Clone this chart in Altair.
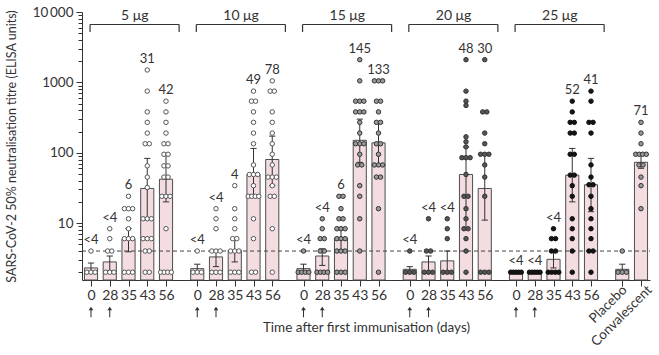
import altair as alt
import pandas as pd

FONT = "Lato"
INK = "#333333"

doses = ["5 μg", "10 μg", "15 μg", "20 μg", "25 μg"]
days = ["0", "28", "35", "43", "56"]
controls = ["Placebo", "Convalescent"]

# order: 5 doses x 5 days, then placebo, convalescent
gmt = [2.3, 2.8, 5.9, 31, 42,
       2.25, 3.3, 4.1, 49, 80,
       2.25, 3.4, 6.1, 150, 138,
       2.2, 2.8, 2.9, 49, 31,
       2.0, 2.0, 3.05, 48, 35,
       2.2, 73]
ci_low = [2.0, 2.1, 3.9, 12, 20,
          2.0, 2.4, 2.8, 24, 34,
          2.0, 2.5, 4.2, 73, 67,
          2.0, 2.0, 2.0, 8.6, 11,
          2.0, 2.0, 2.3, 20, 14.5,
          2.0, 60]
ci_high = [2.7, 3.4, 8.4, 83, 95,
           2.6, 4.1, 6.1, 115, 172,
           2.6, 4.3, 8.6, 300, 270,
           2.4, 3.4, 4.0, 121, 95,
           2.0, 2.0, 4.0, 115, 83,
           2.6, 95]
top_labels = ["<4", "<4", "6", "31", "42",
              "<4", "<4", "4", "49", "78",
              "<4", "<4", "6", "145", "133",
              "<4", "<4", "<4", "48", "30",
              "<4", "<4", "<4", "52", "41",
              "", "71"]
individual = [
    # 5 μg
    [2, 2, 2, 4],
    [2, 2, 2, 4, 4, 6, 8.3],
    [2, 2, 2, 6, 6, 6, 8.3, 11.5, 16, 16, 16, 24],
    [2, 2, 4, 4, 6, 6, 6, 11.5, 11.5, 11.5, 32, 45, 65, 134, 134, 190, 270, 380, 750, 1500],
    [2, 2, 2, 2, 8.3, 24, 24, 24, 45, 45, 65, 65, 95, 95, 134, 134, 190, 270, 380, 540],
    # 10 μg
    [2, 2, 2, 4],
    [2, 2, 2, 4, 4, 4, 8.3, 11.5, 16],
    [2, 2, 2, 4, 4, 4, 6, 6, 8.3, 11.5, 16, 34],
    [2, 2, 6, 11.5, 24, 24, 24, 24, 34, 49, 49, 49, 67, 134, 190, 270, 380, 540, 540, 750],
    [2, 8.3, 24, 24, 34, 45, 45, 45, 67, 95, 134, 190, 270, 380, 750, 750, 1050],
    # 15 μg
    [2, 2, 2, 2, 4],
    [2, 2, 2, 2, 4, 4, 6, 6, 8.3, 11.5],
    [2, 2, 2, 4, 4, 4, 6, 6, 6, 8.3, 8.3, 8.3, 11.5, 11.5, 16, 24, 24],
    [4, 11.5, 24, 34, 67, 67, 95, 134, 134, 134, 190, 270, 380, 380, 380, 540, 540, 540, 1050, 2100],
    [2, 16, 45, 45, 67, 67, 67, 95, 134, 134, 190, 270, 270, 380, 540, 540, 1050, 1050, 1050],
    # 20 μg
    [2, 2, 2, 4],
    [2, 2, 2, 4, 4, 11.5],
    [2, 2, 2, 6, 8.3, 11.5],
    [2, 4, 6, 8.3, 8.3, 11.5, 16, 24, 24, 49, 85, 85, 85, 121, 143, 168, 470, 540, 750, 2100],
    [2, 2, 2, 24, 45, 67, 95, 95, 95, 134, 190, 380, 380, 2100],
    # 25 μg
    [2, 2, 2, 2, 2],
    [2, 2, 2, 2, 2],
    [2, 2, 2, 2, 4, 4, 6, 6, 8.3],
    [2, 4, 6, 8.3, 11.5, 24, 34, 48, 48, 95, 95, 190, 190, 270, 270, 380, 540],
    [2, 4, 4, 6, 8.3, 11.5, 16, 24, 35, 35, 45, 67, 190, 270, 270, 540, 750],
    # placebo, convalescent
    [2, 2, 2, 4],
    [16, 34, 45, 67, 67, 95, 95, 95, 95, 134, 190, 270],
]
detection_limit = 4
major_ticks = [10, 100, 1000, 10000]
minor_ticks = [m * 10 ** e for e in range(0, 4) for m in range(2, 10)]

# ---- layout helpers (axis units: 3 per slot, 17 per dose group) ----
STEP, GROUP = 3, 17


def slot_pos(k):
    if k < 25:
        return GROUP * (k // 5) + STEP * (k % 5)
    return GROUP * 5 + STEP * (k - 25)


def slot_class(k):
    return doses[k // 5] if k < 25 else "control"


rows = []
for k in range(len(gmt)):
    p = slot_pos(k)
    rows.append(dict(pos=p, lo=p - 1.05, hi=p + 1.05, cap_lo=p - 0.5, cap_hi=p + 0.5,
                     gmt=gmt[k], ci_low=ci_low[k], ci_high=ci_high[k],
                     label=top_labels[k], top=max(individual[k])))
bars = pd.DataFrame(rows)

dot_rows = []
for k, vals in enumerate(individual):
    p = slot_pos(k)
    counts = {}
    for v in vals:
        counts[v] = counts.get(v, 0) + 1
    for v, n in counts.items():
        sp = 0.66 if n <= 3 else min(0.66, 1.7 / (n - 1))
        for j in range(n):
            dot_rows.append(dict(x=p + (j - (n - 1) / 2) * sp, v=v, cls=slot_class(k)))
dots = pd.DataFrame(dot_rows)

brackets = pd.DataFrame([dict(left=GROUP * g - 0.15, right=GROUP * g + 4 * STEP + 2.1,
                              center=GROUP * g + 2 * STEP + 1.0, dose=d)
                         for g, d in enumerate(doses)])
bracket_ends = pd.DataFrame([dict(xe=x) for _, r in brackets.iterrows() for x in (r.left, r.right)])
arrows = pd.DataFrame([dict(pos=GROUP * g + STEP * i) for g in range(5) for i in range(2)])
ctrl = pd.DataFrame([dict(pos=GROUP * 5 + STEP * i + 0.4 + 1.0 * i, name=c) for i, c in enumerate(controls)])
dl = pd.DataFrame({"v": [detection_limit]})

all_pos = [slot_pos(k) for k in range(len(gmt))]
x_label_expr = "datum.value >= %d ? '' : " % (GROUP * 5)
for i, d in enumerate(days):
    x_label_expr += "(datum.value %% %d == %d) ? '%s' : " % (GROUP, STEP * i, d)
x_label_expr += "''"

W, H = 568, 268
xscale = alt.Scale(domain=[-1.44, 89.44], nice=False, zero=False)
yscale = alt.Scale(type="log", domain=[1.55, 10000], nice=False)

x_axis = alt.Axis(values=all_pos, labelExpr=x_label_expr, tickSize=6, labelFontSize=14,
                  labelPadding=2, labelOverlap=False, grid=False, orient="bottom",
                  title="Time after first immunisation (days)", titleFontSize=13.5,
                  titleFontWeight="normal", titlePadding=18)
y_axis = alt.Axis(values=major_ticks,
                  labelExpr="datum.value >= 10000 ? '10\u2009000' : format(datum.value, 'd')",
                  tickSize=6, labelFontSize=13.5, labelPadding=3, grid=False, orient="left",
                  title="SARS-CoV-2 50% neutralisation titre (ELISA units)", titleFontSize=12.5,
                  titleFontWeight="normal", titleX=-64)
y_minor = alt.Axis(values=minor_ticks, labels=False, tickSize=4, domain=False, grid=False,
                   title=None, orient="left")

bar_layer = alt.Chart(bars).mark_bar(fill="#f3dde0", stroke="#4d4d4d", strokeWidth=1).encode(
    x=alt.X("lo:Q", scale=xscale, axis=x_axis), x2="hi:Q",
    y=alt.Y("gmt:Q", scale=yscale, axis=y_axis), y2=alt.value(H))

err = alt.Chart(bars).mark_rule(color=INK, strokeWidth=1).encode(
    x=alt.X("pos:Q", scale=xscale, axis=None),
    y=alt.Y("ci_low:Q", scale=yscale, axis=y_minor), y2="ci_high:Q")
cap_hi = alt.Chart(bars).mark_rule(color=INK, strokeWidth=1).encode(
    x=alt.X("cap_lo:Q", scale=xscale, axis=None), x2="cap_hi:Q",
    y=alt.Y("ci_high:Q", scale=yscale, axis=None))
cap_lo = alt.Chart(bars).mark_rule(color=INK, strokeWidth=1).encode(
    x=alt.X("cap_lo:Q", scale=xscale, axis=None), x2="cap_hi:Q",
    y=alt.Y("ci_low:Q", scale=yscale, axis=None))

dash = alt.Chart(dl).mark_rule(color="#444444", strokeDash=[4, 3], strokeWidth=1).encode(
    y=alt.Y("v:Q", scale=yscale, axis=None), x=alt.value(0), x2=alt.value(W))

cls_domain = doses + ["control"]
dot_layer = alt.Chart(dots).mark_circle(size=20, opacity=1, strokeWidth=1).encode(
    x=alt.X("x:Q", scale=xscale, axis=None),
    y=alt.Y("v:Q", scale=yscale, axis=None),
    fill=alt.Fill("cls:N", legend=None, scale=alt.Scale(
        domain=cls_domain, range=["#ffffff", "#ffffff", "#9a9a9a", "#555555", "#141414", "#9a9a9a"])),
    stroke=alt.Stroke("cls:N", legend=None, scale=alt.Scale(
        domain=cls_domain, range=["#555555", "#555555", "#333333", "#333333", "#111111", "#333333"])))

labels = alt.Chart(bars).mark_text(dy=-11, baseline="middle", fontSize=13, color=INK, font=FONT).encode(
    x=alt.X("pos:Q", scale=xscale, axis=None),
    y=alt.Y("top:Q", scale=yscale, axis=None), text="label:N")

br_h = alt.Chart(brackets).mark_rule(color=INK, strokeWidth=1.2).encode(
    x=alt.X("left:Q", scale=xscale, axis=None), x2="right:Q", y=alt.value(12.5))
br_v = alt.Chart(bracket_ends).mark_rule(color=INK, strokeWidth=1.2).encode(
    x=alt.X("xe:Q", scale=xscale, axis=None), y=alt.value(12.5), y2=alt.value(20))
br_t = alt.Chart(brackets).mark_text(fontSize=14, baseline="middle", color=INK, font=FONT).encode(
    x=alt.X("center:Q", scale=xscale, axis=None), y=alt.value(3.5), text="dose:N")

ARROW = "M0,-1 L0.45,-0.35 L0.1,-0.35 L0.1,1 L-0.1,1 L-0.1,-0.35 L-0.45,-0.35 Z"
arrow_layer = alt.Chart(arrows).mark_point(shape=ARROW, size=110, filled=True, color=INK,
                                           opacity=1, strokeWidth=0).encode(
    x=alt.X("pos:Q", scale=xscale, axis=None), y=alt.value(300))

ctrl_layer = alt.Chart(ctrl).mark_text(fontSize=13.5, angle=315, align="right", baseline="middle",
                                       color=INK, font=FONT).encode(
    x=alt.X("pos:Q", scale=xscale, axis=None), y=alt.value(276), text="name:N")

chart = alt.layer(bar_layer, err, cap_hi, cap_lo, dash, dot_layer, labels,
                  br_h, br_v, br_t, arrow_layer, ctrl_layer).resolve_axis(
    x="independent", y="independent").properties(
    width=W, height=H, autosize=alt.AutoSizeParams(type="none"),
    padding={"left": 82, "top": 12, "right": 9, "bottom": 75},
).configure_view(stroke=None).configure_axis(
    labelFont=FONT, titleFont=FONT, labelColor=INK, titleColor=INK,
    domainColor=INK, tickColor=INK)

chart.save("out.html", embed_options={"renderer": "svg", "actions": False})
